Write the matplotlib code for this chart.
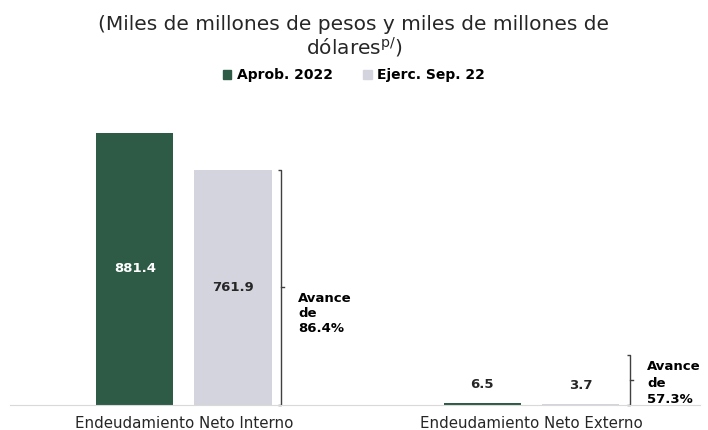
import matplotlib
matplotlib.use("Agg")
import matplotlib.pyplot as plt
from matplotlib.patches import Patch

# Datos: miles de millones de pesos (interno) y de dólares (externo)
categorias = ["Endeudamiento Neto Interno", "Endeudamiento Neto Externo"]
aprobado = [881.4, 6.5]
ejercido = [761.9, 3.7]
avance = ["86.4%", "57.3%"]
series = ["Aprob. 2022", "Ejerc. Sep. 22"]

verde = "#2d5b46"
gris = "#d4d4de"
texto = "#262626"

plt.rcParams["font.family"] = "DejaVu Sans"
plt.rcParams["mathtext.default"] = "regular"

W, H = 708, 430
fig = plt.figure(figsize=(W / 100, H / 100), dpi=100)
ax = fig.add_axes([10 / W, 25 / H, 690 / W, 305 / H])

x = list(range(len(categorias)))
ancho = 0.223
off = 0.1417
ax.bar([i - off for i in x], aprobado, width=ancho, color=verde)
ax.bar([i + off for i in x], ejercido, width=ancho, color=gris)

ax.set_xlim(-0.5007, 1.4849)
ax.set_ylim(0, 988.3)

# etiquetas de valor
ax.text(0 - off, aprobado[0] / 2, f"{aprobado[0]:.1f}", ha="center", va="center",
        color="white", fontsize=9.5, fontweight="bold")
ax.text(0 + off, ejercido[0] / 2, f"{ejercido[0]:.1f}", ha="center", va="center",
        color=texto, fontsize=9.5, fontweight="bold")
ax.text(1 - off, aprobado[1] + 60, f"{aprobado[1]:.1f}", ha="center", va="center",
        color=texto, fontsize=9.5, fontweight="bold")
ax.text(1 + off, ejercido[1] + 60, f"{ejercido[1]:.1f}", ha="center", va="center",
        color=texto, fontsize=9.5, fontweight="bold")

# llaves con el avance
def llave(xc, top, txt_y, txt, esp):
    t = 0.009
    ax.plot([xc - t, xc, xc, xc - t], [top, top, 0, 0], color="#404040", lw=1,
            solid_capstyle="butt", clip_on=False)
    ax.plot([xc, xc + t], [top / 2, top / 2], color="#404040", lw=1)
    ax.text(xc + 0.05, txt_y, f"Avance\nde\n{txt}", ha="left", va="center",
            fontsize=9.5, fontweight="bold", color="black", linespacing=esp)

llave(0.279, ejercido[0], 298, avance[0], 1.2)
llave(1.283, 162, 70, avance[1], 1.35)

for s in ["top", "right", "left"]:
    ax.spines[s].set_visible(False)
ax.spines["bottom"].set_color("#d9d9d9")
ax.set_yticks([])
ax.set_xticks(x)
ax.set_xticklabels(categorias, fontsize=10.8, color=texto)
ax.tick_params(axis="x", length=0, pad=8)

fig.text(0.5, 1 - 24 / H, "(Miles de millones de pesos y miles de millones de",
         ha="center", va="center", fontsize=14.5, color=texto)
fig.text(0.5, 1 - 47 / H, r"dólares$^{p/}$)", ha="center", va="center",
         fontsize=14.5, color=texto)

handles = [Patch(color=verde), Patch(color=gris)]
fig.legend(handles, series, loc="center", bbox_to_anchor=(0.5, 1 - 75 / H), ncol=2,
           frameon=False, prop={"size": 10, "weight": "bold"}, handlelength=0.6,
           handleheight=0.6, handletextpad=0.4, columnspacing=2.2)

fig.savefig("out.png", dpi=100)
